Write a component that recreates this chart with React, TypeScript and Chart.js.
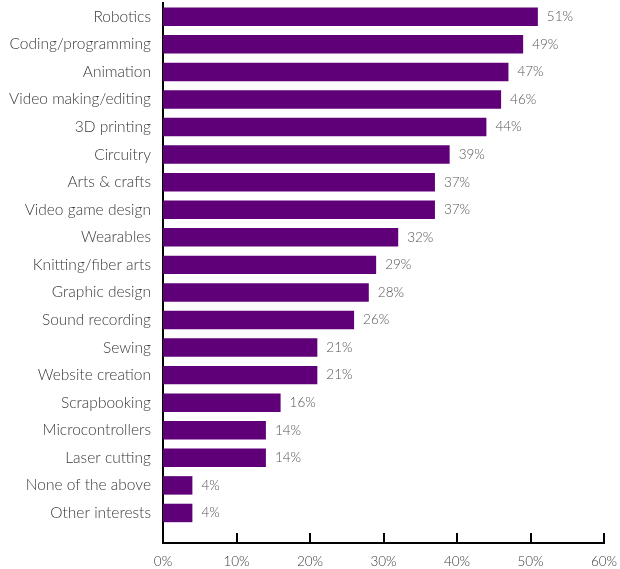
import React, { useEffect, useRef } from "react";
import { Chart, registerables } from "chart.js";

Chart.register(...registerables);

const categories = [
  "Robotics",
  "Coding/programming",
  "Animation",
  "Video making/editing",
  "3D printing",
  "Circuitry",
  "Arts & crafts",
  "Video game design",
  "Wearables",
  "Knitting/fiber arts",
  "Graphic design",
  "Sound recording",
  "Sewing",
  "Website creation",
  "Scrapbooking",
  "Microcontrollers",
  "Laser cutting",
  "None of the above",
  "Other interests",
];

const values = [51, 49, 47, 46, 44, 39, 37, 37, 32, 29, 28, 26, 21, 21, 16, 14, 14, 4, 4];

const xTicks = [0, 10, 20, 30, 40, 50, 60];

const FONT = "Lato, 'Open Sans', sans-serif";
const TEXT = "#3a3a3a";
const VALTEXT = "#555555";
const BAR = "#5f0079";

const Y_MIN = -0.5;
const Y_MAX = 19.09;

export default function App() {
  const ref = useRef<HTMLCanvasElement>(null);

  useEffect(() => {
    const canvas = ref.current;
    if (!canvas) return;

    const overlay = {
      id: "overlay",
      afterDraw(chart: any) {
        const ctx = chart.ctx;
        const xs = chart.scales.x;
        const area = chart.chartArea;
        ctx.save();
        ctx.strokeStyle = "#000";
        ctx.lineWidth = 2;
        xTicks.forEach((t) => {
          if (t === 0) return;
          const px = Math.round(xs.getPixelForValue(t));
          ctx.beginPath();
          ctx.moveTo(px, area.bottom);
          ctx.lineTo(px, area.bottom - 10);
          ctx.stroke();
        });
        ctx.fillStyle = VALTEXT;
        ctx.font = `300 13.5px ${FONT}`;
        ctx.textAlign = "left";
        ctx.textBaseline = "middle";
        const meta = chart.getDatasetMeta(0);
        meta.data.forEach((bar: any, i: number) => {
          ctx.fillText(values[i] + "%", bar.x + 9, bar.y);
        });
        ctx.restore();
      },
    };

    const chart = new Chart(canvas, {
      type: "bar",
      data: {
        datasets: [
          {
            data: values.map((v, i) => ({ x: v, y: i })),
            backgroundColor: BAR,
            borderWidth: 0,
            barPercentage: 0.67,
            categoryPercentage: 1,
          },
        ],
      },
      options: {
        indexAxis: "y",
        animation: false,
        responsive: false,
        layout: { padding: { top: 3, right: 16, left: 0, bottom: 0 } },
        plugins: {
          legend: { display: false },
          tooltip: { enabled: false },
        },
        scales: {
          x: {
            type: "linear",
            min: 0,
            max: 60,
            grid: { display: false, drawTicks: false },
            border: { display: true, color: "#000", width: 2 },
            afterBuildTicks: (s: any) => {
              s.ticks = xTicks.map((v) => ({ value: v }));
              s.min = 0;
              s.max = 60;
            },
            afterFit: (s: any) => {
              s.height = 26;
              s.paddingLeft = 0;
              s.paddingRight = 0;
            },
            ticks: {
              padding: 11,
              color: TEXT,
              font: { family: FONT, size: 13.5, weight: 300 },
              callback: (v: any) => v + "%",
            },
          },
          y: {
            type: "linear",
            reverse: true,
            offset: false,
            bounds: "data",
            min: Y_MIN,
            max: Y_MAX,
            grid: { display: false, drawTicks: false, offset: false },
            border: { display: true, color: "#000", width: 2 },
            afterBuildTicks: (s: any) => {
              s.ticks = categories.map((_, i) => ({ value: i }));
              s.min = Y_MIN;
              s.max = Y_MAX;
            },
            afterFit: (s: any) => {
              s.width = 163;
              s.paddingTop = 0;
              s.paddingBottom = 0;
            },
            ticks: {
              autoSkip: false,
              padding: 12,
              color: TEXT,
              font: { family: FONT, size: 15.5, weight: 300 },
              callback: (v: any) => categories[v as number] ?? "",
            },
          },
        },
      } as any,
      plugins: [overlay],
    });

    return () => chart.destroy();
  }, []);

  return (
    <div style={{ position: "fixed", left: 0, top: 0, width: 620, height: 569, background: "#fff" }}>
      <canvas ref={ref} width={620} height={569} />
    </div>
  );
}
